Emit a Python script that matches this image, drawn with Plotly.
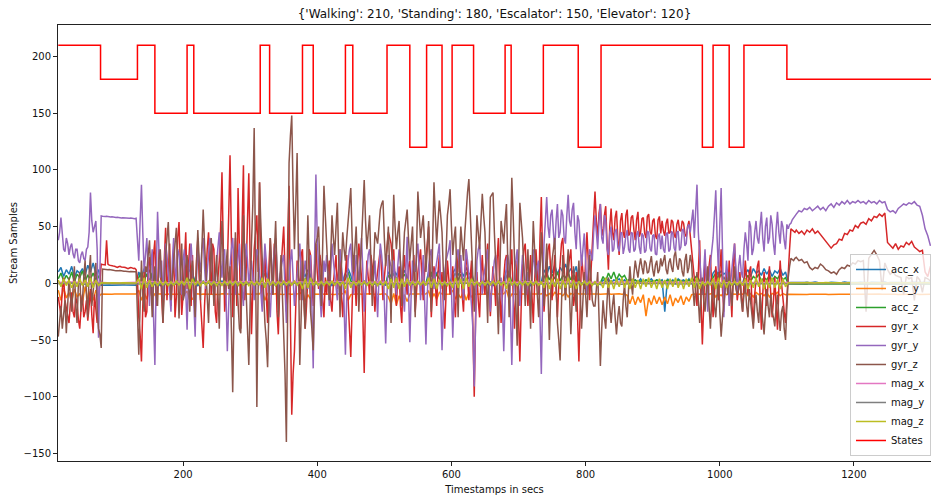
import numpy as np
import plotly.graph_objects as go

# Sample grid (seconds) shared by the inertial channels
timestamps = np.arange(14, 1315, 4)
# In-between samples for the gyroscope channels during the active part of the recording
mid_timestamps = np.arange(16, 1113, 4)
# Coarser grid for the two flat magnetometer channels
mag_timestamps = np.arange(14, 1315, 20)

acc_x = [
    10, 14, 6, 12, 8, 15, 5, 11, 9, 13, 7, 16, 10, 18, 8, 12, -1.6, -1.4, -1.7, -1.5, -1.6, -1.4, -1.5, -1.6, -1.4,
    -1.5, -1.6, -1.4, -1.5, -1.6, 10, 5, 13, 6, 12, 4, -1, 1, -2, 0, -1, 2, -2, 0, -1, 1, -2, 0, 8, 12,
    9, 1, -2, 0, 2, -1, 1, -2, 0, 1, -1, 2, -2, 0, 1, -1, 2, -2, 0, 1, -1, 0, 2, -1, 1,
    0, 8, 12, 6, -1, 1, -2, 0, 2, -1, 1, -2, 0, 1, -1, 2, 10, 6, 12, 7, -1, 1, -2, 0, 1,
    -1, 2, -2, 0, 1, -1, 2, 9, 13, 7, -1, 1, -2, 0, 2, -1, 1, -2, 0, 1, -1, 2, -2, 10, 6,
    12, 7, 14, 8, 11, 6, 0, -1, 0, 1, 0, -1, 0, 10, 6, 13, 8, 12, 0, -1, 0, 1, 9, 13, 7,
    11, 6, 14, 8, 10, -1, 1, -2, 0, 2, -1, 1, -2, 0, 1, -1, 2, 12, 7, -1, 1, -2, 0, 2, -1,
    1, -2, 0, 2, -1, 1, 12, 7, 15, 9, 16, 8, 14, 10, 17, 9, 13, 8, 15, 0, -1, 1, 0, -1, 0,
    1, 0, -1, 3, 1, 4, 0, 3, 2, 4, 1, 3, 0, 4, 2, 3, 1, 4, 0, 3, 2, 4, 1, 3, 2,
    3, -25, 4, 1, 3, 0, 4, 2, 3, 1, 4, 0, 3, 2, 1, 0, -1, 0, 1, 9, 12, 7, 11, 8, 10,
    0, 1, -1, 0, 1, 0, 8, 12, 6, 13, 9, 11, 7, 13, 8, 12, 6, 11, 9, 13, 7, 10, 0.6, 0.8, 0.7,
    0.8, 0.6, 1.0, 0.7, 0.9, 0.5, 0.8, 1.1, 0.7, 0.6, 0.9, 0.8, 0.5, 1.0, 0.7, 0.9, 0.6, 0.8, 1.2, 0.7, 0.6, 0.9, 0.8, 0.7, 1.0,
    0.7, 0.9, 0.6, 1.0, 0.8, 0.5, 0.9, 0.7, 1.1, 0.6, 0.8, 0.9, 0.7, 0.5, 1.0, 0.8, 0.6, 0.9, 0.7, 1.0, 0.8, 0.6, 0.9, 0.7, 0.8, 0.9,
]

acc_y = [
    -6, -15, -4, -13, -8, -16, -5, -12, -9, -17, -3, -14, -7, -15, -6, -12, -9.4, -9.6, -9.5, -9.4, -9.6, -9.5, -9.5, -9.4, -9.6,
    -9.5, -9.4, -9.6, -9.5, -9.5, -6, -15, -8, -14, -5, -13, -9.3, -9.7, -9.5, -9.2, -9.8, -9.4, -9.6, -9.3, -9.7, -9.5, -9.4, -9.6, -7, -15,
    -14, -9.6, -9.3, -9.8, -9.4, -9.5, -9.7, -9.2, -9.6, -9.4, -9.8, -9.3, -9.5, -9.7, -9.4, -9.6, -9.2, -9.5, -9.8, -9.3, -9.6, -9.4, -9.7, -9.5, -9.3,
    -9.5, -6, -15, -9, -9.4, -9.7, -9.3, -9.6, -9.5, -9.8, -9.2, -9.5, -9.7, -9.4, -9.6, -9.3, -7, -16, -10, -14, -9.5, -9.7, -9.3, -9.6, -9.4,
    -9.6, -9.3, -9.5, -9.8, -9.4, -9.6, -9.3, -7, -15, -10, -9.5, -9.7, -9.3, -9.6, -9.4, -9.8, -9.2, -9.5, -9.7, -9.4, -9.6, -9.3, -9.5, -12, -18,
    -9, -19, -11, -17, -10, -16, -9.5, -9.4, -9.6, -9.5, -9.3, -9.6, -9.5, -7, -15, -9, -14, -8, -9.4, -9.6, -9.5, -9.4, -6, -14, -9,
    -13, -7, -15, -8, -12, -9.6, -9.3, -9.5, -9.7, -9.4, -9.6, -9.2, -9.5, -9.8, -9.4, -9.6, -9.3, -6, -14, -9.5, -9.7, -9.3, -9.6, -9.4, -9.5,
    -9.4, -9.6, -9.3, -9.7, -9.5, -9.4, -8, -11, -9, -12, -8, -10, -9, -11, -8, -12, -9, -10, -8, -9.5, -9.4, -9.6, -9.5, -9.4, -9.6,
    -9.5, -9.4, -9.6, -9.4, -9.8, -9.3, -9.7, -9.5, -9.9, -9.2, -9.6, -9.4, -10.5, -18, -11, -19, -12, -17, -10, -29, -13, -19, -11, -18, -12,
    -19, -12, -18, -10, -20, -13, -17, -11, -19, -12, -16, -10, -9.4, -9.7, -9.5, -9.5, -9.4, -9.6, -9.5, -8, -12, -9, -11, -8, -10,
    -9.5, -9.4, -9.6, -9.5, -9.4, -9.6, -8, -11, -9, -12, -8, -10, -9, -11, -8, -12, -9, -10, -8, -11, -9, -10, -9.6, -9.7, -9.6,
    -9.6, -9.7, -9.5, -9.6, -9.8, -9.6, -9.5, -9.7, -9.6, -9.7, -9.5, -9.6, -9.8, -9.6, -9.7, -9.5, -9.6, -9.7, -9.6, -9.5, -9.7, -9.6, -9.8, -9.6, -9.7,
    -9.6, -9.5, -9.7, -9.6, -9.8, -9.6, -9.5, -9.7, -9.6, -9.6, -9.5, -9.7, -9.6, -9.8, -9.6, -9.5, -9.7, -9.6, -9.7, -9.5, -9.6, -9.8, -9.6, -9.7, -9.5, -9.6,
]

acc_z = [
    4, 9, 2, 7, 3, 10, 1, 8, 5, 11, 2, 7, 4, 9, 3, 6, 0.2, 0.3, 0.1, 0.2, 0.3, 0.2, 0.1, 0.2, 0.3,
    0.2, 0.1, 0.3, 0.2, 0.2, 5, 10, 3, 8, 2, 9, 0.5, -0.3, 0.8, 0.1, -0.5, 0.6, 0.2, -0.2, 0.7, 0.0, 0.4, -0.4, 6, 2,
    8, 0.3, -0.4, 0.6, 0.1, -0.2, 0.5, 0.0, 0.7, -0.3, 0.2, 0.4, -0.5, 0.6, 0.1, -0.1, 0.5, 0.2, -0.3, 0.8, 0.0, 0.3, -0.2, 0.6, 0.1,
    0.3, 3, 9, 5, 0.4, -0.2, 0.6, 0.0, 0.3, -0.4, 0.5, 0.1, -0.3, 0.7, 0.2, -0.1, 6, 2, 9, 4, 0.3, -0.2, 0.5, 0.1, 0.4,
    0.2, -0.3, 0.6, 0.0, 0.4, -0.2, 0.5, 4, 10, 2, 0.3, -0.4, 0.6, 0.1, -0.2, 0.5, 0.0, 0.7, -0.3, 0.2, 0.4, -0.1, 0.3, 7, 3,
    9, 3, 11, 5, 8, 2, 0.2, 0.3, 0.1, 0.2, 0.4, 0.2, 0.1, 6, 10, 3, 8, 4, 0.2, 0.3, 0.2, 0.1, 5, 9, 3,
    8, 2, 10, 4, 7, 0.3, -0.2, 0.5, 0.1, -0.4, 0.6, 0.0, 0.3, -0.3, 0.5, 0.2, -0.1, 6, 11, 0.2, -0.3, 0.5, 0.1, 0.4, -0.2,
    0.3, 0.0, 0.5, -0.2, 0.4, 0.1, 5, 9, 3, 8, 4, 10, 2, 7, 5, 9, 3, 8, 4, 0.2, 0.3, 0.1, 0.2, 0.3, 0.2,
    0.2, 0.1, 0.3, 6, 2, 9, 4, 10, 3, 8, 5, 7, 2, 4, 1, 3, 0.5, 2, 1, 3, 0.8, 2, 1.5, 3, 1,
    2, 1, 3, 0.5, 2, 1, 3, 1, 2, 0.5, 3, 1, 4, 7, 2, 0.2, 0.3, 0.2, 0.1, 5, 9, 3, 8, 4, 6,
    0.2, 0.1, 0.3, 0.2, 0.2, 0.1, 3, 7, 2, 6, 4, 8, 2, 5, 3, 7, 2, 6, 4, 8, 3, 5, -0.6, -0.7, -0.5,
    -0.6, -0.5, -0.7, -0.6, -0.8, -0.5, -0.6, -0.7, -0.5, -0.6, -0.8, -0.6, -0.5, -0.7, -0.6, -0.5, -0.7, -0.6, -0.8, -0.6, -0.5, -0.7, -0.6, -0.5, -0.7,
    -0.6, -0.7, -0.5, -0.6, -0.8, -0.6, -0.5, -0.7, -0.6, -0.5, -0.7, -0.6, -0.8, -0.5, -0.6, -0.7, -0.6, -0.5, -0.7, -0.6, -0.8, -0.6, -0.5, -0.7, -0.6, -0.5,
]

gyr_x = [
    -12, -28, 5, -22, -35, -8, -30, -18, -40, -10, -25, -33, -5, -44, -20, -15, 17, 16, 38, 16, 15, 15, 14, 15, 14,
    14, 13, 14, 13, 12, -30, -69, 10, -25, 23, -15, 38, -8, 15, -35, 49, 5, -20, 30, -12, 54, -28, 20, -5, 35,
    25, -15, 40, -20, -57, 10, 45, -10, 30, -35, 20, 98, -25, 15, 113, -30, 40, 84, -40, 104, 10, 97, -45, 30, 60,
    89, -20, 25, -35, 40, -10, 20, -45, 15, 50, -25, 86, -116, -60, 20, -15, 30, -40, 10, 25, -20, 35, -5, 15, -30,
    -10, 20, -25, 15, -5, 30, -30, 10, -15, -65, 25, -20, 35, 5, -79, 20, -10, 15, -25, 10, 30, -15, 20, 45, 35,
    30, -20, 15, -35, 25, -10, 20, 5, -25, 10, 30, -15, 20, 50, -30, 15, -20, 25, 10, -40, 20, -10, 15, -30, 25,
    15, -25, 30, -15, 20, -100, 10, -30, 25, -10, 35, -29, 15, -20, 40, -35, 10, 25, -15, 30, -40, 20, -69, 15, 35,
    -20, 25, -35, 30, -10, 76, -25, 15, 35, -15, 25, -30, 20, 40, -10, 15, 30, -20, 10, -69, 25, -5, 45, -15, 30,
    81, 40, 70, 42, 68, 12, 66, 38, 64, 25, 62, 40, 65, 44, 60, 38, 63, 45, 58, 40, 61, 43, 57, 39, 59,
    55, 42, 57, 45, 54, 40, 56, 46, 53, 41, 55, 30, 10, -20, 38, -54, 20, -10, 25, -30, 15, -15, 30, -25, 10,
    20, -30, 35, -15, 10, -25, 20, -10, 15, -35, 5, 20, -41, 10, -20, 15, -30, 5, -41, 20, -15, -35, 10, 48, 46,
    47, 44, 46, 43, 47, 45, 48, 44, 46, 43, 40, 37, 34, 31, 34, 35, 39, 38, 44, 43, 47, 46, 51, 49, 53,
    54, 52, 57, 55, 59, 58, 61, 59, 62, 36, 33, 31, 35, 30, 33, 32, 36, 34, 37, 32, 30, 28, 29, 10, 6, 15,
]

gyr_x_mid = [
    -20, -5, -15, -30, -18, -25, -12, -32, -22, -30, -15, -20, -28, -10, -35, -2, 16.5, 16.2, 17, 15.5, 15.2, 14.8, 14.6, 14.4, 14.2,
    13.8, 13.5, 13.6, 13.2, 5, -45, -20, -30, 15, -5, 25, -20, 30, -10, 20, -15, 35, 10, -30, 40, 15, -10, 45, 20, -20,
    -10, 20, 5, -40, -20, 30, 15, 35, -25, 5, 50, 30, -10, 60, 40, 10, -20, 30, 50, -15, 55, 20, -5, 45, 10,
    30, 5, -10, 15, 10, 35, -25, -5, 30, 10, 40, -30, -80, -20, 5, 25, -10, -20, 30, -5, 15, 10, 25, -15, 5,
    10, -15, 0, 25, 15, -10, -5, 25, -35, -20, 5, 15, 20, -30, -10, 5, 25, -5, 0, 20, 10, 5, 35, 40, 20,
    0, 5, -20, 10, 5, 15, -10, 25, -5, 20, 5, 10, 35, 15, -5, 0, 10, -5, -20, -10, 5, 0, -15, 5, 10,
    -10, 10, 5, 5, -40, -30, -15, 5, 0, 20, 5, -5, 0, 20, -5, -10, 20, 0, 15, -10, -5, -30, -20, 30, 5,
    5, -10, 0, 10, 40, 20, -5, 30, 10, 5, -5, 0, 35, 15, 5, 25, 0, -10, -30, -20, 10, 20, 20, 10, 60,
    55, 62, 48, 60, 35, 50, 45, 58, 40, 55, 45, 60, 42, 58, 47, 56, 41, 57, 44, 59, 46, 55, 42, 56, 44,
    46, 53, 44, 56, 43, 52, 47, 55, 44, 50, 42, 20, -5, 10, -15, -20, 5, 15, -5, -10, 0, 10, -5, 5, -10,
    -5, 10, 5, -5, -10, 0, 5, 10, -20, -10, 15, -15, -10, -5, 0, -10, -15, -20, -5, 0, -25, -10, 30, 47, 45,
]

gyr_y = [
    38, 58, 30, 40, 25, 35, 22, 30, 18, 28, 20, 32, 80, 45, 55, -48, 59.5, 58.8, 59.1, 58.4, 58.6, 57.9, 58.2, 57.6, 57.8,
    57.5, 57.1, 57.6, 57.2, 57.4, 20, 87, 10, 40, -20, 30, -72, 63, 5, -15, 35, 10, -25, 40, 0, 25, -10, 30, -41, 20,
    15, -47, 30, 10, 40, -5, 25, 35, -15, 20, 45, 5, 30, -60, 15, 40, -10, 25, 10, -20, 35, 0, 20, -15, 30,
    10, -25, 35, 5, -30, 20, 40, -10, 15, 25, -35, 10, 30, -20, 5, 35, -15, 20, -5, 25, -75, 96, 10, -30, 20,
    25, -20, 35, 10, -15, 30, 5, -63, 20, 35, -10, 25, 0, 40, -25, 15, 30, -5, 20, -30, 35, 10, -53, 25, 15,
    20, -10, 30, 5, -25, 41, -52, 20, 10, 35, -15, 25, -54, 15, 30, -5, 20, 35, -59, 10, 25, 38, -48, 15, 30,
    25, -15, 30, 10, -20, -91, 20, 35, -10, 15, 30, -25, 10, 25, -30, 5, -60, 20, 15, -72, 10, 30, -20, 25, 5,
    10, -20, 30, 5, 20, -80, 35, 76, 40, 65, 30, 70, 45, 60, 35, 78, 50, 71, 30, 55, 15, 44, -10, 30, 20,
    60, 30, 70, 35, 55, 25, 50, 30, 48, 28, 45, 32, 47, 27, 44, 30, 46, 26, 42, 29, 45, 28, 43, 25, 44,
    42, 27, 45, 30, 44, 28, 46, 32, 48, 35, 52, 58, 40, 87, 20, -10, 30, -25, 15, 40, 82, 10, 84, -30, 20,
    -20, 15, 35, -10, 25, 5, 45, 20, 50, 30, 55, 35, 63, 28, 58, 40, 52, 25, 63, 35, 50, 30, 48, 53, 58,
    61, 64, 63, 66, 65, 67, 64, 66, 68, 65, 67, 64, 68, 70, 67, 71, 69, 72, 70, 73, 70, 72, 71, 73, 71,
    72, 70, 73, 71, 72, 70, 73, 71, 72, 65, 63, 64, 62, 66, 68, 70, 69, 71, 70, 72, 69, 68, 60, 48, 42, 33,
]

gyr_y_mid = [
    45, 40, 28, 35, 32, 26, 30, 20, 25, 22, 30, 45, 55, 50, 30, 10, 59.2, 59.0, 58.7, 58.5, 58.3, 58.0, 57.9, 57.7, 57.6,
    57.3, 57.4, 57.3, 57.0, 40, 55, 45, 25, 10, 15, -30, 5, 30, 20, 15, 25, -10, 20, 15, 30, 10, 20, -5, 5, 35,
    -15, 5, 20, 30, 15, 10, 40, 10, 5, 35, 20, 25, -10, -20, 30, 15, 10, 35, -5, 15, 20, 10, 5, 10, 25,
    -5, 10, 20, -10, 0, 30, 15, 5, 20, -5, -10, 20, 5, -5, 20, 10, 5, 10, 15, -20, 20, 40, -10, -5, 10,
    5, 10, 20, -5, 10, 15, -20, -10, 30, 10, 5, 15, 20, 10, -5, 25, 10, 5, -5, 5, 25, -15, -10, 20, 0,
    5, 15, 20, -10, 10, -5, -10, 15, 25, 10, 5, -15, -10, 25, 10, 10, 30, -10, -20, 20, 30, -5, -10, 25, 10,
    5, 10, 20, -5, -40, -20, 30, 10, 5, 25, 0, -5, 20, -5, -10, -20, -15, 25, -25, -20, 20, 0, 5, 15, -10,
    -5, 5, 15, 15, -30, -10, 55, 50, 60, 45, 55, 40, 65, 40, 60, 55, 65, 45, 60, 35, 30, 20, 15, 25, 45,
    45, 55, 40, 60, 30, 45, 28, 46, 32, 44, 26, 42, 30, 45, 28, 43, 32, 44, 27, 46, 31, 42, 26, 41, 30,
    30, 43, 28, 46, 31, 45, 29, 47, 33, 50, 45, 65, 60, 45, 5, 10, 0, 5, 25, 60, 40, 50, 30, 0, 5,
    0, 25, 10, 15, 10, 30, 35, 55, 25, 45, 40, 50, 40, 50, 35, 60, 35, 48, 45, 55, 38, 52, 52, 56, 60,
]

gyr_z = [
    -47, -20, -30, -44, 5, -25, 15, -35, 10, -15, 20, -30, 25, -10, 18, -40, -57, 12.4, 11.8, 12.1, 11.5, 11.2, 10.9, 11.3, 10.8,
    10.6, 10.2, 10.5, 10.1, 10.3, -63, 20, -25, 10, 38, -30, 15, -20, 30, -35, 25, 54, -15, 20, 49, -31, 35, -10, 25, -25,
    20, -30, 47, -15, 65, 10, -35, 40, -20, 25, -40, 55, -10, 30, 15, -96, 45, -25, -44, 60, -15, -72, 35, 137, -109,
    89, 20, -35, -74, 40, -10, 55, -30, 25, -45, -140, 106, 148, 30, 115, -72, 20, -40, 60, -25, -59, 35, 50, -20, 86,
    40, -15, 60, 25, 71, -30, 45, 20, 55, 84, 10, 50, -25, 40, 91, 30, 60, -20, 45, 35, 65, 73, 15, 50, -35,
    78, 30, 55, -20, 45, 65, 20, 50, -30, 81, 40, 60, 10, 55, -25, 89, 35, 73, 45, -15, 60, 83, 25, 50, -30,
    50, 20, 65, 92, 40, -25, 60, 30, 79, 45, -35, 76, 80, 20, -45, 55, 35, 70, -30, 93, 25, -55, 71, 40, -20,
    30, -40, 55, 10, -30, 45, -20, 35, -50, 20, 40, -35, -68, 25, -15, 30, -45, 15, -25, 20, -40, 10, -30, 25, -15,
    -20, 10, -73, -15, -40, 5, -35, -10, -45, -20, -38, 0, -30, 15, -10, 20, 5, 22, 8, 18, 10, 24, 6, 20, 12,
    15, 25, 8, 22, 10, 28, 12, 20, 6, 26, 14, 18, -20, 10, -35, 5, -25, 15, -40, 0, -30, 10, -47, -15, 5,
    10, -20, 15, -10, 5, -25, 0, -30, -15, -40, -10, -35, -20, -45, -5, -30, -25, -38, -10, -42, -20, -50, 5, 22, 20,
    23, 20, 21, 18, 19, 14, 12, 14, 13, 17, 15, 12, 11, 9, 10, 8, 12, 14, 13, 16, 15, 18, 17, 20, 19,
    20, -25, 22, 26, 29, 25, 20, -6, 18, 12, 8, 10, 7, 6, 5, -10, 6, 4, 5, -15, 6, 3, -8, 5, 4, 2,
]

gyr_z_mid = [
    -35, -40, -15, -20, -10, -5, -20, 0, -25, 5, -10, 10, -20, 5, -25, -45, 12.5, 12.2, 11.9, 11.7, 11.3, 11.1, 11.0, 10.9, 10.7,
    10.4, 10.3, 10.2, 10.2, -30, -20, -10, 15, 25, 5, 0, -10, 20, 5, -10, 40, 20, 5, 35, 10, 10, -15, 15, 5, 10,
    -5, 15, 20, 30, 35, -15, 5, 10, 5, -10, 20, 20, 15, -5, -40, -20, 5, -40, 10, 25, -40, -10, 70, 20, 0,
    50, -10, -50, -20, 15, 25, 10, 0, -10, -80, -20, 130, 80, 70, 20, -30, -15, 10, 20, -40, -10, 40, 15, 30, 60,
    10, 25, 40, 50, 20, 15, 30, 40, 70, 40, 30, 15, 10, 65, 55, 45, 20, 15, 40, 50, 70, 40, 30, 10, 30,
    50, 45, 15, 20, 55, 40, 35, 10, 30, 60, 50, 35, 30, 15, 35, 60, 55, 60, 10, 25, 70, 50, 40, 10, 20,
    35, 45, 80, 60, 5, 20, 45, 55, 60, 5, 25, 78, 45, -10, 10, 45, 55, 20, 35, 60, -15, 10, 55, 10, 5,
    -5, 10, 30, -10, 10, 15, 10, -10, -10, 30, 0, -50, -20, 5, 10, -10, -15, -5, 0, -10, -15, -10, 0, 5, -20,
    -5, -30, -40, -30, -15, -20, -20, -30, -30, -35, -15, -20, -5, 0, 8, 12, 15, 14, 20, 9, 18, 12, 16, 9, 22,
    20, 12, 18, 14, 24, 16, 22, 10, 20, 9, 25, -5, -5, -15, -10, -15, -5, -20, -15, -20, -10, -25, -30, -5, -10,
    -5, 0, -5, -5, -15, -10, -20, -5, -30, -20, -25, -10, -35, -25, -20, -10, -30, -20, -30, -25, -40, -20, 15, 21, 22,
]

mag_x = [
    0.8, 1.2, 0.5, 1.0, 0.3, 0.4, 0.9, 1.4, 0.2, 1.1, 0.6, 1.3, 0.4, 0.9, 1.5, 0.3, 1.0, 0.7, 1.2, 0.5,
    0.8, 1.4, 0.2, 0.9, 1.1, 0.4, 1.3, 0.6, 1.0, 0.5, 1.2, 0.8, 0.3, 1.1, 0.7, 1.4, 0.5, 0.9, 1.2, 0.4,
    1.0, 0.6, 1.3, 0.8, 0.5, 1.1, 0.9, 0.6, 0.6, 0.5, 0.6, 0.7, 0.6, 0.5, 0.6, 0.7, 0.6, 0.5, 0.6, 0.6,
    0.7, 0.5, 0.6, 0.6, 0.5, 0.6,
]

mag_y = [
    -0.4, 0.2, -0.8, 0.1, -0.3, -0.2, -0.6, 0.3, -0.9, 0.0, -0.5, 0.4, -0.7, -0.1, 0.2, -0.8, 0.1, -0.4, 0.3, -0.6,
    -0.2, 0.4, -0.9, 0.0, -0.3, -0.7, 0.2, -0.5, 0.1, -0.8, 0.3, -0.4, -0.1, 0.2, -0.6, 0.4, -0.7, 0.0, -0.3, 0.3,
    -0.5, 0.1, -0.8, 0.2, -0.4, 0.0, -0.6, -0.3, -0.3, -0.2, -0.3, -0.4, -0.3, -0.2, -0.3, -0.3, -0.4, -0.2, -0.3, -0.3,
    -0.2, -0.4, -0.3, -0.3, -0.2, -0.3,
]

mag_z = [
    3, -3, 4, -2, 3, -4, 2, -3, 4, -2, 3, -3, 5, -4, 3, -2, 0.4, 0.2, 0.5, 0.3, 0.4, 0.2, 0.5, 0.3, 0.4,
    0.3, 0.5, 0.2, 0.4, 0.3, 4, -5, 5, -4, 3, -3, 1.5, -1.8, 2, -1.5, 1.7, -2, 1.4, -1.6, 2, -1.5, 1.8, -1.7, 5, -5,
    4, -1.6, 1.8, -2, 1.5, -1.7, 2, -1.4, 1.6, -2, 1.5, -1.8, 1.7, -1.5, 1.9, -1.6, 2, -1.8, 1.5, -1.7, 1.6, -2, 1.8, -1.5, 1.7,
    -1.6, 5, -4, 4, -1.8, 1.6, -2, 1.5, -1.7, 1.9, -1.5, 1.8, -1.6, 2, -1.7, 1.5, -5, 4, -4, 5, -1.7, 1.6, -1.9, 1.5, -1.8,
    1.7, -1.5, 2, -1.6, 1.8, -1.9, 1.5, -5, 5, -4, 1.8, -1.6, 2, -1.5, 1.7, -1.9, 1.6, -1.8, 1.5, -2, 1.7, -1.6, 1.9, -5, 4,
    -4, 5, -5, 4, -3, 4, -2, 1.5, -1.8, 2, -1.5, 1.7, -2, 5, -4, 4, -5, 3, -1.8, 1.6, -2, 1.5, -4, 5, -4,
    4, -5, 5, -3, 4, -1.8, 1.6, -2, 1.5, -1.7, 1.9, -1.5, 1.8, -1.6, 2, -1.7, 1.5, -5, 5, -1.8, 1.6, -1.9, 1.5, -1.7, 2,
    -1.6, 1.8, -1.5, 1.9, -1.7, 1.6, -4, 5, -5, 4, -3, 4, -5, 3, -4, 5, -4, 3, -5, 1.8, -1.6, 2, -1.5, 1.7, -1.9,
    1.6, -1.8, 1.5, -4, 5, -4, 3, -5, 4, -3, 5, -4, 3, -5, 4, -4, 3, -5, 4, -3, 5, -4, 3, -5, 4,
    -4, 3, -5, 4, -3, 5, -4, 3, -5, 4, -3, 5, -4, 5, -5, 1.6, -1.8, 1.5, -1.7, 4, -5, 5, -4, 3, -4,
    1.8, -1.6, 2, -1.5, 1.7, -1.9, 4, -5, 3, -4, 5, -3, 4, -5, 3, -4, 5, -4, 3, -5, 4, -3, 0.5, 0.3, 0.6,
    0.4, 0.6, 0.3, 0.5, 0.7, 0.4, 0.5, 0.3, 0.6, 0.4, 0.5, 0.7, 0.3, 0.5, 0.4, 0.6, 0.5, 0.3, 0.6, 0.4, 0.5, 0.7, 0.4, 0.5, 0.3,
    0.5, 0.4, 0.6, 0.3, 0.5, 0.7, 0.4, 0.5, 0.3, 0.6, 0.4, 0.5, 0.7, 0.3, 0.5, 0.4, 0.6, 0.5, 0.3, 0.6, 0.4, 0.5, 0.7, 0.4, 0.5, 0.3,
]

# Activity label codes over time (value holds until the next change)
state_change_times = [14, 77, 132, 158, 206, 216, 315, 329, 378, 394, 442, 453, 504, 538, 563,
                      586, 601, 633, 680, 689, 737, 789, 823, 974, 990, 1014, 1036, 1100, 1315]
state_codes = [210, 180, 210, 150, 210, 150, 210, 150, 210, 150, 210, 150, 210, 120, 210,
               120, 210, 150, 210, 150, 210, 120, 210, 120, 210, 120, 210, 180, 180]

title_text = "{'Walking': 210, 'Standing': 180, 'Escalator': 150, 'Elevator': 120}"


def merged(main_values, mid_values):
    """Interleave the regular samples with the in-between samples, in time order."""
    xs = np.concatenate([timestamps[:len(main_values)], mid_timestamps[:len(mid_values)]])
    ys = np.concatenate([np.asarray(main_values, float), np.asarray(mid_values, float)])
    order = np.argsort(xs, kind="stable")
    return xs[order], ys[order]


channels = [
    ("acc_x", timestamps[:len(acc_x)], acc_x, "#1f77b4"),
    ("acc_y", timestamps[:len(acc_y)], acc_y, "#ff7f0e"),
    ("acc_z", timestamps[:len(acc_z)], acc_z, "#2ca02c"),
    ("gyr_x", *merged(gyr_x, gyr_x_mid), "#d62728"),
    ("gyr_y", *merged(gyr_y, gyr_y_mid), "#9467bd"),
    ("gyr_z", *merged(gyr_z, gyr_z_mid), "#8c564b"),
    ("mag_x", mag_timestamps[:len(mag_x)], mag_x, "#e377c2"),
    ("mag_y", mag_timestamps[:len(mag_y)], mag_y, "#7f7f7f"),
    ("mag_z", timestamps[:len(mag_z)], mag_z, "#bcbd22"),
]

fig = go.Figure()
for name, xs, values, color in channels:
    fig.add_trace(go.Scatter(
        x=xs, y=values, mode="lines", name=name,
        line=dict(color=color, width=1.5),
    ))

fig.add_trace(go.Scatter(
    x=state_change_times, y=state_codes, mode="lines", name="States",
    line=dict(color="#ff0000", width=1.5, shape="hv"),
))

font_family = "DejaVu Sans"
fig.update_layout(
    width=931, height=495,
    margin=dict(l=58, r=0, t=25, b=34),
    paper_bgcolor="white", plot_bgcolor="white",
    font=dict(family=font_family, size=10, color="#111111"),
    title=dict(text=title_text, x=0.5, xref="paper", xanchor="center",
               y=1 - 14 / 495, yref="container", yanchor="middle",
               font=dict(family=font_family, size=12, color="#111111")),
    showlegend=True,
    legend=dict(
        x=1.0, xanchor="right", y=0.0115, yanchor="bottom",
        bgcolor="rgba(255,255,255,0.8)", bordercolor="#cccccc", borderwidth=1,
        font=dict(family=font_family, size=10, color="#111111"),
        tracegroupgap=0,
    ),
    xaxis=dict(
        range=[13.6, 1314.8], tickvals=[200, 400, 600, 800, 1000, 1200],
        showgrid=False, zeroline=False, showline=True, mirror=True,
        linecolor="#222222", linewidth=1, ticks="outside", ticklen=4,
        tickcolor="#222222", tickfont=dict(size=10),
        title=dict(text="Timestamps in secs", font=dict(size=10), standoff=6),
    ),
    yaxis=dict(
        range=[-156.7, 227.8], tickvals=[-150, -100, -50, 0, 50, 100, 150, 200],
        showgrid=False, zeroline=False, showline=True, mirror=False,
        linecolor="#222222", linewidth=1, ticks="outside", ticklen=4,
        tickcolor="#222222", tickfont=dict(size=10),
        title=dict(text="Stream Samples", font=dict(size=10), standoff=4),
    ),
)

fig.write_html("out.html", config={"displayModeBar": False})
